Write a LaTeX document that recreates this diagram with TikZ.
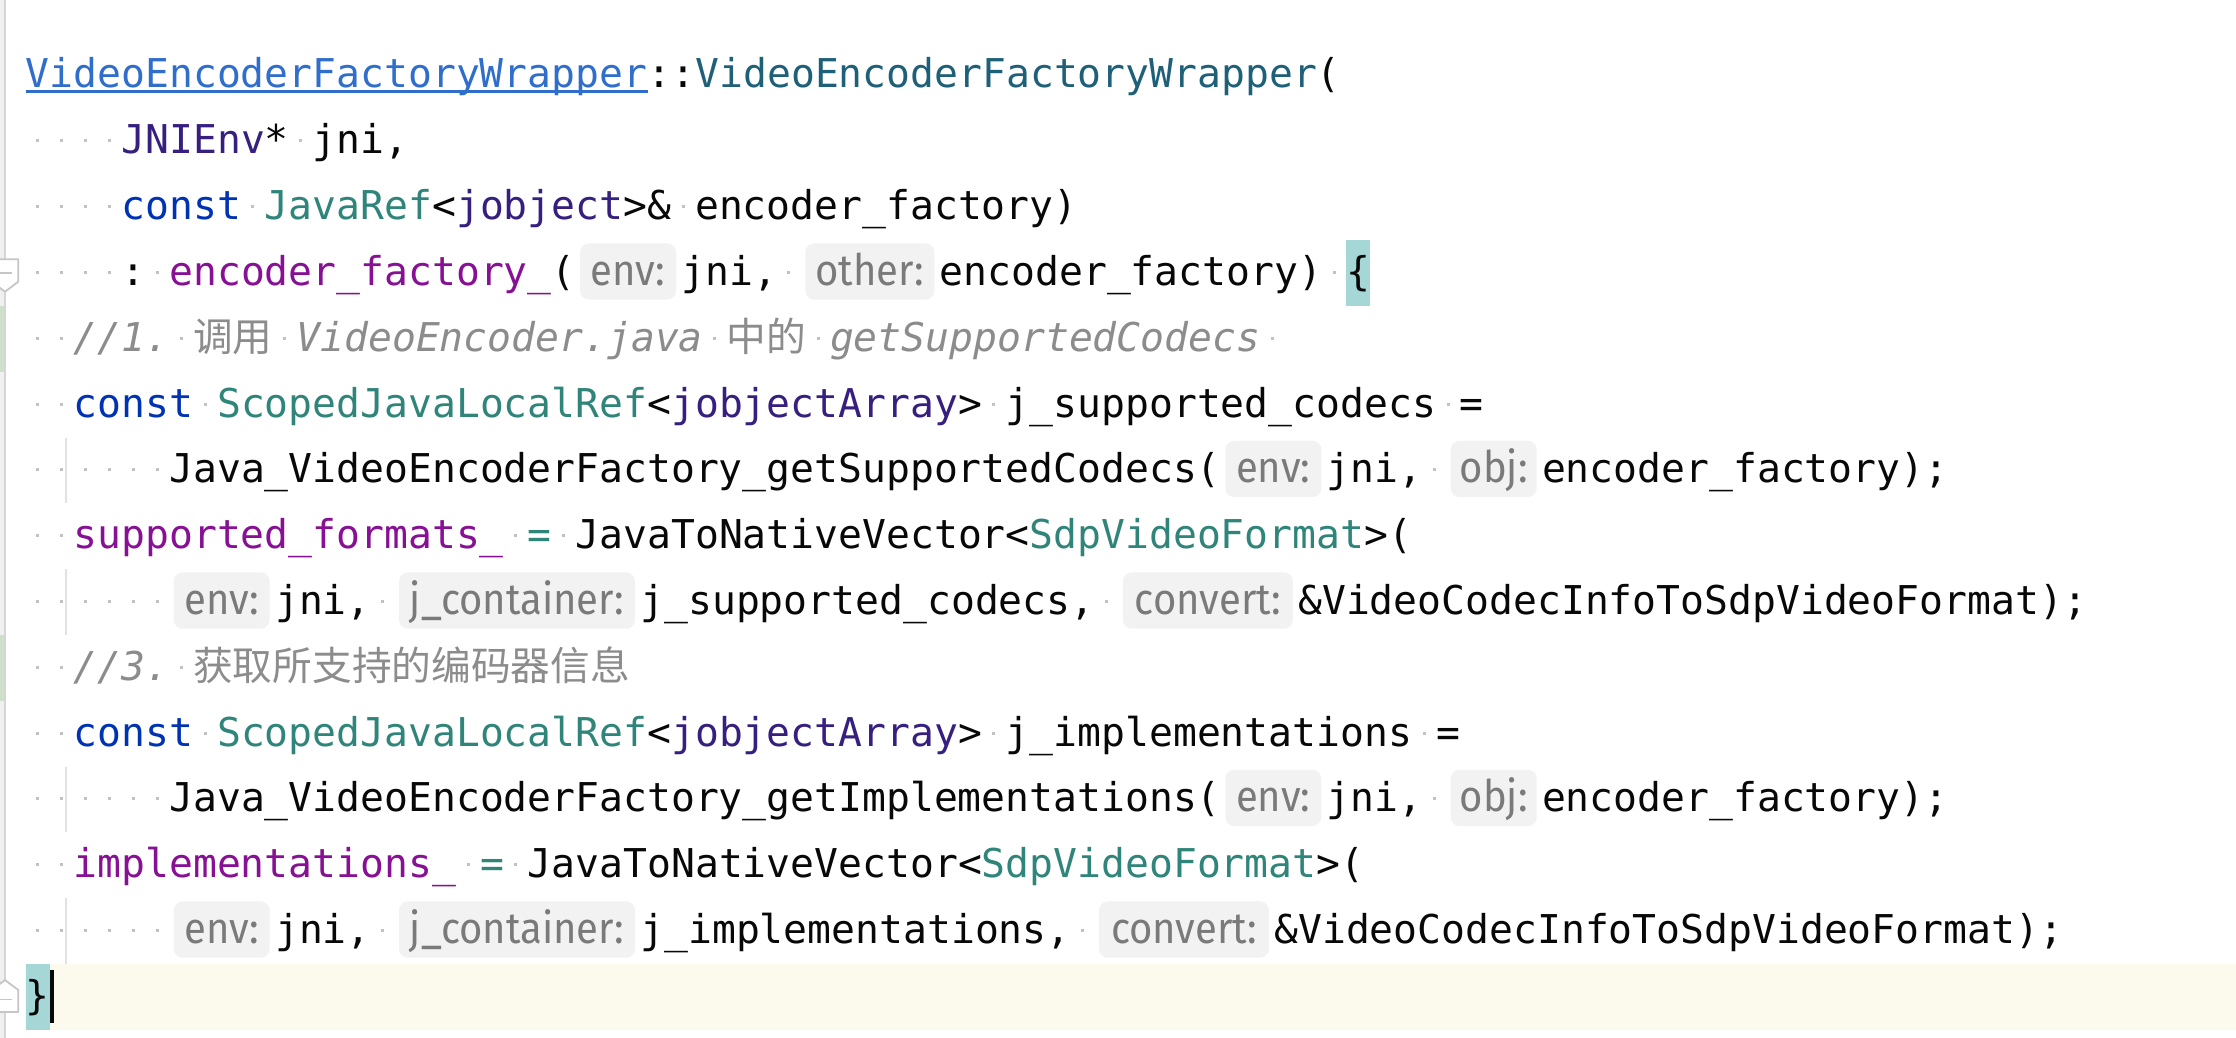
\documentclass[tikz,border=0pt]{standalone}
\usepackage{fontspec}
\newfontfamily\codefont{DejaVu Sans Mono}
\newfontfamily\hintfont{Fira Sans}[FakeStretch=0.92]
\newfontfamily\cjk{Noto Sans CJK SC}
\definecolor{fg}{HTML}{080808}
\definecolor{kw}{HTML}{0033B3}
\definecolor{typ}{HTML}{371F80}
\definecolor{cls}{HTML}{2F8579}
\definecolor{fn}{HTML}{1F6079}
\definecolor{link}{HTML}{306ECC}
\definecolor{mem}{HTML}{871094}
\definecolor{cmt}{HTML}{8C8C8C}
\definecolor{dotc}{HTML}{C2C2C2}
\definecolor{hintbg}{HTML}{F2F2F2}
\definecolor{hintfg}{HTML}{7A7A7A}
\definecolor{bracebg}{HTML}{A4D7D5}
\definecolor{cream}{HTML}{FCFAED}
\definecolor{gutline}{HTML}{D5D5D5}
\definecolor{gutstrip}{HTML}{F0F0F0}
\definecolor{greenbar}{HTML}{CFE0C8}
\definecolor{guidec}{HTML}{E2E2E2}
\definecolor{foldc}{HTML}{C6C6C6}
\newcommand\ws{\makebox[\fontcharwd\font`x]{\textcolor{dotc}{\rule[11.5pt]{3pt}{3pt}}}}
\tikzset{
  code/.style={anchor=base west, inner sep=0pt, text=fg, font={\codefont\fontsize{39.7pt}{48pt}\selectfont}},
  hint/.style={anchor=base west, inner sep=0pt, text height=42pt, text depth=14.3pt, rounded corners=9pt, fill=hintbg, text=hintfg, font={\hintfont\fontsize{43.5pt}{50pt}\selectfont}},
  bracebox/.style={code, fill=bracebg, text height=45.3pt, text depth=20.5pt},
  guide/.style={draw=guidec, line width=2pt},
  fold/.style={draw=foldc, fill=white, line width=1.8pt, line join=round},
}
\begin{document}
\begin{tikzpicture}[x=1pt,y=-1pt]
\useasboundingbox (0,0) rectangle (2236,1038);
\fill[white] (0,0) rectangle (2236,1038);
% current line
\fill[cream] (25,963.9) rectangle (2236,1029.7);
% gutter
\fill[gutstrip] (0,0) rectangle (4,1038);
\fill[greenbar] (0,305.9) rectangle (4,371.7);
\fill[greenbar] (0,634.9) rectangle (4,700.7);
\draw[gutline, line width=2pt] (5,0) -- (5,1038);
% indent guides
\draw[guide] (66,437.5) -- (66,503.3);
\draw[guide] (66,569.1) -- (66,634.9);
\draw[guide] (66,766.5) -- (66,832.3);
\draw[guide] (66,898.1) -- (66,963.9);

% line 1
\node[code] (l1a) at (25.7,88.0) {\textcolor{link}{VideoEncoderFactoryWrapper}};
\node[code] (l1b) at (l1a.base east) {::\textcolor{fn}{VideoEncoderFactoryWrapper}(};
\draw[link, line width=3pt] ([yshift=-4pt]l1a.base west) -- ([yshift=-4pt]l1a.base east);
% line 2
\node[code] (l2) at (25.7,153.8) {\ws\ws\ws\ws\textcolor{typ}{JNIEnv}*\ws jni,};
% line 3
\node[code] (l3) at (25.7,219.6) {\ws\ws\ws\ws\textcolor{kw}{const}\ws\textcolor{cls}{JavaRef}<\textcolor{typ}{jobject}>\&\ws encoder\_factory)};
% line 4
\node[code] (l4a) at (25.7,285.4) {\ws\ws\ws\ws:\ws\textcolor{mem}{encoder\_factory\_}(};
\node[hint, minimum width=96pt] (h4a) at ([xshift=4pt]l4a.base east) {env:};
\node[code] (l4b) at ([xshift=5pt]h4a.base east) {jni,\ws};
\node[hint, minimum width=129pt] (h4b) at ([xshift=4pt]l4b.base east) {other:};
\node[code] (l4c) at ([xshift=5pt]h4b.base east) {encoder\_factory)\ws};
\node[bracebox] (l4d) at (l4c.base east) {\{};
% line 5
\node[code, text=cmt] (l5) at (25.7,351.2) {\ws\ws\itshape//1.\ws{\upshape\cjk 调用}\ws VideoEncoder.java\ws{\upshape\cjk 中的}\ws getSupportedCodecs\ws};
% line 6
\node[code] (l6) at (25.7,417.0) {\ws\ws\textcolor{kw}{const}\ws\textcolor{cls}{ScopedJavaLocalRef}<\textcolor{typ}{jobjectArray}>\ws j\_supported\_codecs\ws=};
% line 7
\node[code] (l7a) at (25.7,482.8) {\ws\ws\ws\ws\ws\ws Java\_VideoEncoderFactory\_getSupportedCodecs(};
\node[hint, minimum width=96pt] (h7a) at ([xshift=4pt]l7a.base east) {env:};
\node[code] (l7b) at ([xshift=5pt]h7a.base east) {jni,\ws};
\node[hint, minimum width=86pt] (h7b) at ([xshift=4pt]l7b.base east) {obj:};
\node[code] (l7c) at ([xshift=5pt]h7b.base east) {encoder\_factory);};
% line 8
\node[code] (l8) at (25.7,548.6) {\ws\ws\textcolor{mem}{supported\_formats\_}\ws\textcolor{cls}{=}\ws JavaToNativeVector<\textcolor{cls}{SdpVideoFormat}>(};
% line 9
\node[code] (l9a) at (25.7,614.4) {\ws\ws\ws\ws\ws\ws};
\node[hint, minimum width=96pt] (h9a) at ([xshift=4pt]l9a.base east) {env:};
\node[code] (l9b) at ([xshift=5pt]h9a.base east) {jni,\ws};
\node[hint, minimum width=236pt] (h9b) at ([xshift=4pt]l9b.base east) {j\_container:};
\node[code] (l9c) at ([xshift=5pt]h9b.base east) {j\_supported\_codecs,\ws};
\node[hint, minimum width=170pt] (h9c) at ([xshift=4pt]l9c.base east) {convert:};
\node[code] (l9d) at ([xshift=5pt]h9c.base east) {\&VideoCodecInfoToSdpVideoFormat);};
% line 10
\node[code, text=cmt] (l10) at (25.7,680.2) {\ws\ws\itshape//3.\ws{\upshape\cjk 获取所支持的编码器信息}};
% line 11
\node[code] (l11) at (25.7,746.0) {\ws\ws\textcolor{kw}{const}\ws\textcolor{cls}{ScopedJavaLocalRef}<\textcolor{typ}{jobjectArray}>\ws j\_implementations\ws=};
% line 12
\node[code] (l12a) at (25.7,811.8) {\ws\ws\ws\ws\ws\ws Java\_VideoEncoderFactory\_getImplementations(};
\node[hint, minimum width=96pt] (h12a) at ([xshift=4pt]l12a.base east) {env:};
\node[code] (l12b) at ([xshift=5pt]h12a.base east) {jni,\ws};
\node[hint, minimum width=86pt] (h12b) at ([xshift=4pt]l12b.base east) {obj:};
\node[code] (l12c) at ([xshift=5pt]h12b.base east) {encoder\_factory);};
% line 13
\node[code] (l13) at (25.7,877.6) {\ws\ws\textcolor{mem}{implementations\_}\ws\textcolor{cls}{=}\ws JavaToNativeVector<\textcolor{cls}{SdpVideoFormat}>(};
% line 14
\node[code] (l14a) at (25.7,943.4) {\ws\ws\ws\ws\ws\ws};
\node[hint, minimum width=96pt] (h14a) at ([xshift=4pt]l14a.base east) {env:};
\node[code] (l14b) at ([xshift=5pt]h14a.base east) {jni,\ws};
\node[hint, minimum width=236pt] (h14b) at ([xshift=4pt]l14b.base east) {j\_container:};
\node[code] (l14c) at ([xshift=5pt]h14b.base east) {j\_implementations,\ws};
\node[hint, minimum width=170pt] (h14c) at ([xshift=4pt]l14c.base east) {convert:};
\node[code] (l14d) at ([xshift=5pt]h14c.base east) {\&VideoCodecInfoToSdpVideoFormat);};
% line 15
\node[bracebox] (l15) at (25.7,1009.2) {\}};
\draw[fg, line width=3.5pt] ([xshift=1.8pt,yshift=-6pt]l15.north east) -- ([xshift=1.8pt,yshift=7pt]l15.south east);

% fold markers
\draw[fold] (-8.3,259.3) -- (18.3,259.3) -- (18.3,281.7) -- (5,291.7) -- (-8.3,281.7) -- cycle;
\draw[foldc, line width=1.8pt] (-1.7,272.7) -- (11.7,272.7);
\draw[fold] (5,980) -- (18.3,990) -- (18.3,1012) -- (-8.3,1012) -- (-8.3,990) -- cycle;
\draw[foldc, line width=1.8pt] (-1.7,999.5) -- (11.7,999.5);
\end{tikzpicture}
\end{document}
